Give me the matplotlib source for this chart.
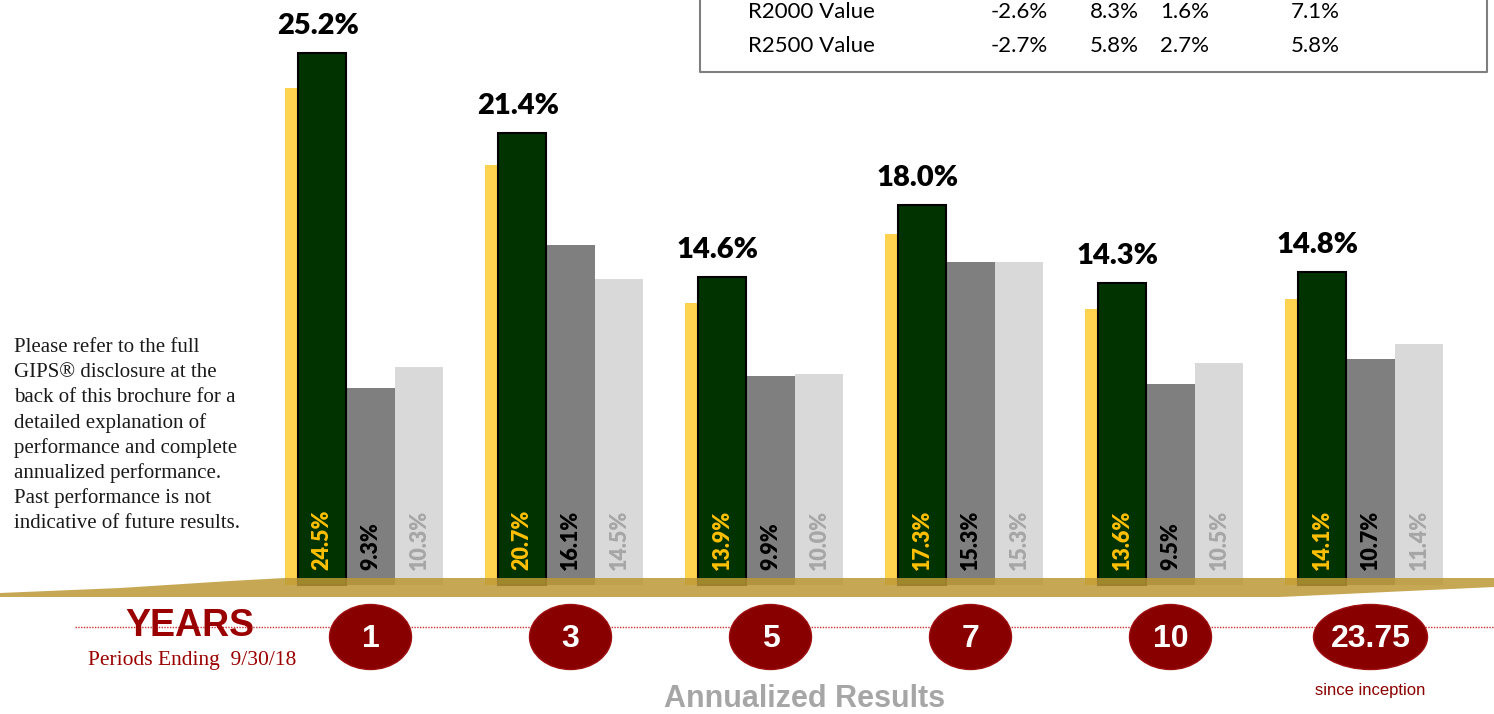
import matplotlib
matplotlib.use("Agg")
import matplotlib.pyplot as plt
from matplotlib.patches import Ellipse, Polygon

# ---------------- data ----------------
periods = ["1", "3", "5", "7", "10", "23.75"]
gross = [25.2, 21.4, 14.6, 18.0, 14.3, 14.8]      # dark green bars
net = [24.5, 20.7, 13.9, 17.3, 13.6, 14.1]        # yellow bars (behind)
r2000v = [9.3, 16.1, 9.9, 15.3, 9.5, 10.7]        # dark gray
r2500v = [10.3, 14.5, 10.0, 15.3, 10.5, 11.4]     # light gray

table_rows = ["R2000 Value", "R2500 Value"]
table_vals = [["-2.6%", "8.3%", "1.6%", "7.1%"],
              ["-2.7%", "5.8%", "2.7%", "5.8%"]]

disclaimer = ["Please refer to the full",
              "GIPS\u00ae disclosure at the",
              "back of this brochure for a",
              "detailed explanation of",
              "performance and complete",
              "annualized performance.",
              "Past performance is not",
              "indicative of future results."]

# ---------------- figure ----------------
W, H = 1494, 714
fig = plt.figure(figsize=(W / 100, H / 100), dpi=100)
fig.patch.set_facecolor("white")

SANS = ["Liberation Sans", "DejaVu Sans"]
HUM = ["Lato", "Liberation Sans", "DejaVu Sans"]
SERIF = ["Liberation Serif", "DejaVu Serif"]

px_per_unit_x = 200.0
x0_px = 322.0
base_px = 585.0
px_per_pct = 21.13

ax = fig.add_axes([0, 0, 1, 1])
ax.set_xlim(-x0_px / px_per_unit_x, (W - x0_px) / px_per_unit_x)
ax.set_ylim(-(H - base_px) / px_per_pct, base_px / px_per_pct)
ax.axis("off")

# yellow bars drawn on a slightly compressed scale (as in the source graphic)
axy = fig.add_axes([0, 0, 1, 1], zorder=0)
ylo, yhi = ax.get_ylim()
axy.set_xlim(ax.get_xlim())
axy.set_ylim(ylo / 0.96, yhi / 0.96)
axy.axis("off")
ax.set_zorder(1)
ax.patch.set_alpha(0)

bw = 48.5 / px_per_unit_x
idx = list(range(len(periods)))
xg = [i for i in idx]
xy = [i - 13 / px_per_unit_x for i in idx]
xd = [i + bw for i in idx]
xl = [i + 2 * bw for i in idx]

axy.bar(xy, net, width=bw, color="#FFD24F", linewidth=0)
ax.bar(xg, gross, width=bw, color="#003300", edgecolor="black", linewidth=1.5, zorder=3)
ax.bar(xd, r2000v, width=bw, color="#7F7F7F", linewidth=0, zorder=2)
ax.bar(xl, r2500v, width=bw, color="#D9D9D9", linewidth=0, zorder=2)

for i in idx:
    ax.annotate(f"{gross[i]:.1f}%", (xg[i] - 0.02, gross[i]), xytext=(0, 10),
                textcoords="offset points", ha="center", va="bottom",
                fontsize=21, fontweight="heavy", family=HUM, color="black", zorder=5)
    ax.text(xg[i], 0.7, f"{net[i]:.1f}%", rotation=90, ha="center", va="bottom",
            fontsize=15.5, fontweight="heavy", family=HUM, color="#FFC000", zorder=5)
    ax.text(xd[i], 0.7, f"{r2000v[i]:.1f}%", rotation=90, ha="center", va="bottom",
            fontsize=15.5, fontweight="heavy", family=HUM, color="black", zorder=5)
    ax.text(xl[i], 0.7, f"{r2500v[i]:.1f}%", rotation=90, ha="center", va="bottom",
            fontsize=15.5, fontweight="heavy", family=HUM, color="#A6A6A6", zorder=5)

# ---------------- decorations (pixel overlay) ----------------
ov = fig.add_axes([0, 0, 1, 1], zorder=2)
ov.set_xlim(0, W)
ov.set_ylim(H, 0)
ov.axis("off")
ov.patch.set_alpha(0)

band = Polygon([(0, 597), (0, 593), (120, 588), (230, 581), (285, 578), (W, 578),
                (W, 587), (1280, 597)], closed=True, facecolor="#BC9835",
               alpha=0.85, edgecolor="none")
ov.add_patch(band)

# dotted red line
ov.plot([75, W], [627, 627], color="#D03030", lw=1.0, ls=(0, (1, 1)))

dred = "#8B0000"
ov.text(190, 626, "YEARS", ha="center", va="center", fontsize=27,
        fontweight="bold", family=SANS, color="#9B0000")
ov.text(192, 660, "Periods Ending  9/30/18", ha="center", va="center",
        fontsize=15.5, family=SERIF, color="#9B0000")

for i, p in enumerate(periods):
    cx = x0_px + px_per_unit_x * i + 48.5
    w = 114 if len(p) > 2 else 82
    ov.add_patch(Ellipse((cx, 637), w, 65, facecolor="#880000", edgecolor="#A01010", lw=1, zorder=3))
    ov.text(cx, 639, p, ha="center", va="center", fontsize=23, fontweight="bold",
            family=SANS, color="white", zorder=4)
ov.text(x0_px + px_per_unit_x * 5 + 48.5, 690, "since inception", ha="center",
        va="center", fontsize=12, family=SANS, color=dred)

ov.text(805, 699, "Annualized Results", ha="center", va="center", fontsize=22,
        fontweight="bold", family=SANS, color="#A6A6A6")

for k, line in enumerate(disclaimer):
    ov.text(14, 347 + 25.2 * k, line, ha="left", va="center", fontsize=15,
            family=SERIF, color="#1a1a1a")

# table box (top cut off)
ov.plot([700, 700, 1487, 1487], [-5, 72, 72, -5], color="#7F7F7F", lw=1.5)
col_right = [1048, 1139, 1209, 1340]
row_y = [12, 46]
for r, name in enumerate(table_rows):
    ov.text(748, row_y[r], name, ha="left", va="center", fontsize=16,
            family=HUM, color="black")
    for c, v in enumerate(table_vals[r]):
        ov.text(col_right[c], row_y[r], v, ha="right", va="center", fontsize=16,
                family=HUM, color="black")

fig.savefig("out.png", dpi=100, facecolor="white")
